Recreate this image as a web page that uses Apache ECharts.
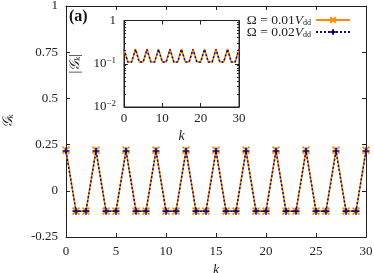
<!DOCTYPE html>
<html><head><meta charset="utf-8">
<script src="https://cdn.jsdelivr.net/npm/echarts@6/dist/echarts.min.js"></script>
<style>html,body{margin:0;padding:0;background:#fff}#c{width:374px;height:273px}</style>
</head><body><div id="c"></div>
<script>
const kValues = [0,1,2,3,4,5,6,7,8,9,10,11,12,13,14,15,16,17,18,19,20,21,22,23,24,25,26,27,28,29,30];
const G1 = [0.22,-0.11,-0.11,0.22,-0.11,-0.11,0.22,-0.11,-0.11,0.22,-0.11,-0.11,0.22,-0.11,-0.11,0.22,-0.11,-0.11,0.22,-0.11,-0.11,0.22,-0.11,-0.11,0.22,-0.11,-0.11,0.22,-0.11,-0.11,0.22];
const G2 = [0.215,-0.11,-0.11,0.215,-0.11,-0.11,0.215,-0.11,-0.11,0.215,-0.11,-0.11,0.215,-0.11,-0.11,0.215,-0.11,-0.11,0.215,-0.11,-0.11,0.215,-0.11,-0.11,0.215,-0.11,-0.11,0.215,-0.11,-0.11,0.215];
const absG1 = G1.map(Math.abs);
const absG2 = G2.map(Math.abs);
const insetMinor = [0.02,0.03,0.04,0.05,0.06,0.07,0.08,0.09,0.2,0.3,0.4,0.5,0.6,0.7,0.8,0.9];
const names = ['Ω = 0.01V_dd', 'Ω = 0.02V_dd'];

const FONT = 'Liberation Serif';
const ORANGE = '#ff8c00';
const NAVY = '#0b0b7a';
const xSym = 'path://M0,0L10,10M10,0L0,10';
const pSym = 'path://M5,0L5,10M0,5L10,5';

const chart = echarts.init(document.getElementById('c'), null, {renderer: 'canvas'});
const lab = {fontFamily: FONT, fontSize: 13, color: '#222'};
const axLine = {show: true, onZero: false, lineStyle: {color: '#222', width: 1}};
const noLine = {show: false, onZero: false};
const tickIn = (len) => ({show: true, inside: true, length: len, lineStyle: {color: '#222', width: 1}});
const numFmt = v => (v === -0.25 ? '-0.25' : String(v));
const logFmt = v => {
  if (Math.abs(v - 1) < 1e-9) return '1';
  const e = Math.round(Math.log10(v));
  return '{b|10}{s|−' + (-e) + '}';
};
const rich = {b: {fontFamily: FONT, fontSize: 13, color: '#222'}, s: {fontFamily: FONT, fontSize: 9, color: '#222', padding: [0, 0, 7, 0]}};
const gRich = {g: {fontFamily: FONT, fontSize: 14, color: '#222', fontStyle: 'italic'}, s: {fontFamily: FONT, fontSize: 9, fontStyle: 'italic', color: '#222', padding: [0, 0, -6, 0]}, t: {fontFamily: FONT, fontSize: 14, color: '#222'}};
const insetRect = {left: 124, top: 20.5, width: 115, height: 86.5, outerBoundsMode: 'none', containLabel: false};

const option = {
  animation: false,
  backgroundColor: '#fff',
  grid: [
    {left: 66, top: 6, right: 8, bottom: 36, outerBoundsMode: 'none', containLabel: false},
    Object.assign({show: true, backgroundColor: '#fff', borderWidth: 0, z: 5}, insetRect),
    Object.assign({show: true, backgroundColor: 'transparent', borderColor: '#222', borderWidth: 1, z: 9}, insetRect)
  ],
  legend: {
    right: 18, top: 8, orient: 'vertical', align: 'right', itemWidth: 34, itemHeight: 7, itemGap: -2,
    textStyle: {fontFamily: FONT, fontSize: 13.5, color: '#222', lineHeight: 12, rich: {
      sub: {fontFamily: FONT, fontSize: 8, color: '#222', lineHeight: 12, padding: [0, 0, -5, 0]},
      t: {fontFamily: FONT, fontSize: 13.5, color: '#222', lineHeight: 12},
      v: {fontFamily: FONT, fontSize: 13.5, fontStyle: 'italic', color: '#222', lineHeight: 12}}},
    formatter: n => {
      const p = n.split('V_');
      return '{t|' + p[0] + '}{v|V}{sub|' + p[1] + '}';
    },
    data: [names[0], names[1]], z: 20
  },
  xAxis: [
    {gridIndex: 0, type: 'value', min: 0, max: 30, interval: 5, position: 'bottom', axisLine: axLine, axisTick: tickIn(4), splitLine: {show: false},
     axisLabel: Object.assign({margin: 8}, lab), name: 'k', nameLocation: 'middle', nameGap: 24, nameTextStyle: {fontFamily: FONT, fontSize: 14, fontStyle: 'italic', color: '#222'}},
    {gridIndex: 0, type: 'value', min: 0, max: 30, interval: 5, position: 'top', axisLine: axLine, axisTick: tickIn(4), splitLine: {show: false}, axisLabel: {show: false}},
    {gridIndex: 1, z: 10, type: 'value', min: 0, max: 30, interval: 10, position: 'bottom', axisLine: axLine, axisTick: tickIn(4), splitLine: {show: false},
     axisLabel: Object.assign({margin: 5}, lab), name: 'k', nameLocation: 'middle', nameGap: 22, nameTextStyle: {fontFamily: FONT, fontSize: 14, fontStyle: 'italic', color: '#222'}},
    {gridIndex: 1, z: 10, type: 'value', min: 0, max: 30, interval: 10, position: 'top', axisLine: axLine, axisTick: tickIn(4), splitLine: {show: false}, axisLabel: {show: false}},
    {gridIndex: 2, z: 10, type: 'value', min: 0, max: 30, show: false}
  ],
  yAxis: [
    {gridIndex: 0, type: 'value', min: -0.25, max: 1, interval: 0.25, position: 'left', axisLine: axLine, axisTick: tickIn(4), splitLine: {show: false},
     axisLabel: Object.assign({margin: 8, formatter: numFmt}, lab), name: '{g|𝒢}{s|k}', nameLocation: 'middle', nameGap: 51, nameTextStyle: {rich: gRich}},
    {gridIndex: 0, type: 'value', min: -0.25, max: 1, interval: 0.25, position: 'right', axisLine: axLine, axisTick: tickIn(4), splitLine: {show: false}, axisLabel: {show: false}},
    {gridIndex: 1, z: 10, type: 'log', logBase: 10, min: 0.01, max: 1, position: 'left', axisLine: axLine, axisTick: tickIn(4), splitLine: {show: false},
     axisLabel: {margin: 8, formatter: logFmt, rich: rich, fontFamily: FONT, fontSize: 13, color: '#222'},
     name: '{t||}{g|𝒢}{s|k}{t||}', nameLocation: 'middle', nameGap: 42,
     nameTextStyle: {fontFamily: FONT, fontSize: 14, color: '#222', rich: gRich}},
    {gridIndex: 1, z: 10, type: 'log', logBase: 10, min: 0.01, max: 1, position: 'right', axisLine: axLine, axisTick: tickIn(4), splitLine: {show: false}, axisLabel: {show: false}},
    {gridIndex: 2, z: 10, type: 'log', logBase: 10, min: 0.01, max: 1, position: 'left', axisLine: noLine, axisTick: Object.assign(tickIn(2), {customValues: insetMinor}), splitLine: {show: false}, axisLabel: {show: false}},
    {gridIndex: 2, z: 10, type: 'log', logBase: 10, min: 0.01, max: 1, position: 'right', axisLine: noLine, axisTick: Object.assign(tickIn(2), {customValues: insetMinor}), splitLine: {show: false}, axisLabel: {show: false}}
  ],
  graphic: [
    {type: 'text', left: 69, top: 9, style: {text: '(a)', fontFamily: FONT, fontSize: 16, fontWeight: 'bold', fill: '#111'}, z: 30}
  ],
  series: [
    {name: names[0], type: 'line', xAxisIndex: 0, yAxisIndex: 0, data: kValues.map((k, i) => [k, G1[i]]),
     symbol: xSym, symbolSize: 7, showAllSymbol: true,
     lineStyle: {color: ORANGE, width: 1.6}, itemStyle: {color: 'none', borderColor: ORANGE, borderWidth: 1.6}, z: 2},
    {name: names[1], type: 'line', xAxisIndex: 0, yAxisIndex: 0, data: kValues.map((k, i) => [k, G2[i]]),
     symbol: pSym, symbolSize: 7, showAllSymbol: true,
     lineStyle: {color: NAVY, width: 1.5, type: [2, 2]}, itemStyle: {color: 'none', borderColor: NAVY, borderWidth: 1.6}, z: 3},
    {name: names[0], type: 'line', xAxisIndex: 2, yAxisIndex: 2, data: kValues.map((k, i) => [k, absG1[i]]),
     symbol: 'none', lineStyle: {color: ORANGE, width: 1.6}, z: 11},
    {name: names[1], type: 'line', xAxisIndex: 2, yAxisIndex: 2, data: kValues.map((k, i) => [k, absG2[i]]),
     symbol: 'none', lineStyle: {color: NAVY, width: 1.5, type: [2, 2]}, z: 12}
  ]
};
chart.setOption(option);
</script></body></html>
